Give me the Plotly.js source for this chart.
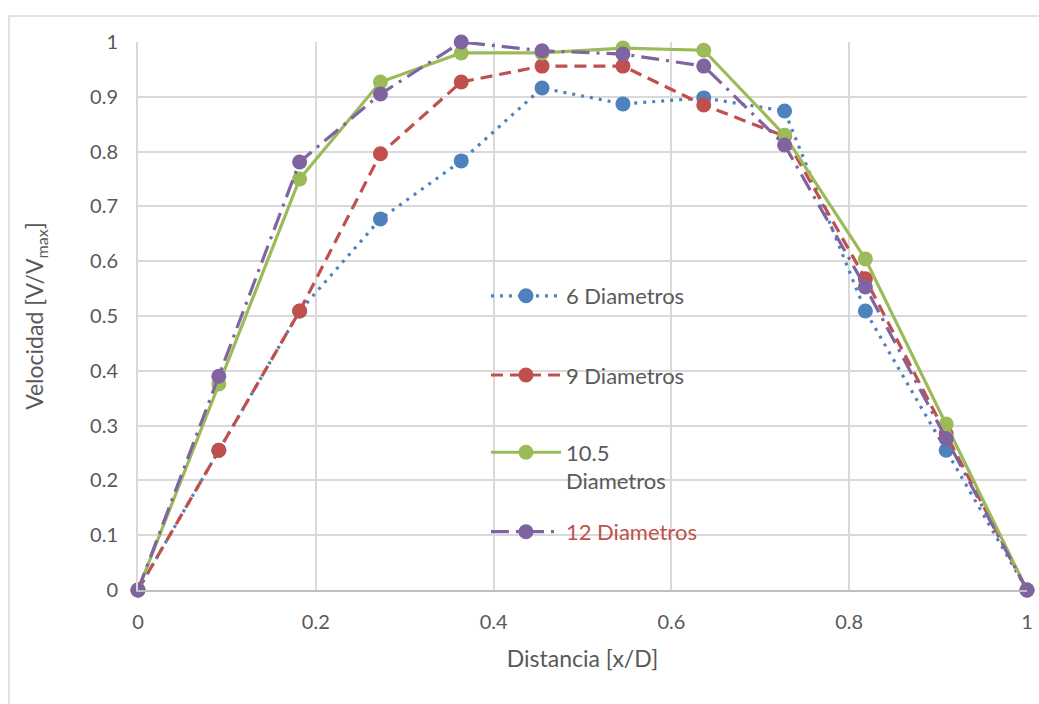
<!DOCTYPE html>
<html>
<head>
<meta charset="utf-8">
<script src="https://cdn.plot.ly/plotly-3.0.1.min.js"></script>
<style>html,body{margin:0;padding:0;background:#fff;}#chart{width:1039px;height:704px;}</style>
</head>
<body>
<div id="chart"></div>
<script>
var distancia = [0, 0.0909, 0.1818, 0.2727, 0.3636, 0.4545, 0.5455, 0.6364, 0.7273, 0.8182, 0.9091, 1];
var seriesNames = ["6 Diametros", "9 Diametros", "10.5<br>Diametros", "12 Diametros"];
var d6 = [0, 0.255, 0.509, 0.677, 0.783, 0.916, 0.887, 0.898, 0.874, 0.509, 0.255, 0];
var d9 = [0, 0.255, 0.509, 0.796, 0.927, 0.956, 0.956, 0.885, 0.828, 0.568, 0.285, 0];
var d105 = [0, 0.376, 0.750, 0.927, 0.980, 0.980, 0.989, 0.985, 0.830, 0.604, 0.303, 0];
var d12 = [0, 0.390, 0.781, 0.905, 1.000, 0.984, 0.978, 0.956, 0.812, 0.553, 0.276, 0];
var xTicks = [0, 0.2, 0.4, 0.6, 0.8, 1];
var yTicks = [0, 0.1, 0.2, 0.3, 0.4, 0.5, 0.6, 0.7, 0.8, 0.9, 1];

var FONT = "Lato, 'Liberation Sans', sans-serif";
var TXT = "#595959";
function tr(y, name, color, dash, leg) {
  return {
    x: distancia, y: y, name: name, type: "scatter", mode: "lines+markers",
    line: {color: color, width: 3.2, dash: dash},
    marker: {color: color, size: 15},
    cliponaxis: false,
    legend: leg
  };
}
var data = [
  tr(d6, seriesNames[0], "#4F81BD", "3px,6px", "legend"),
  tr(d9, seriesNames[1], "#C0504D", "12px,7px", "legend2"),
  tr(d105, seriesNames[2], "#9BBB59", "solid", "legend3"),
  tr(d12, seriesNames[3], "#8064A2", "18px,7px,3px,7px", "legend4")
];
function leg(y, col) {
  return {x: 0.3914, xanchor: "left", y: y, yanchor: "middle", bgcolor: "rgba(0,0,0,0)",
    font: {family: FONT, size: 22, color: col || TXT}, itemwidth: 70, valign: "top"};
}
var layout = {
  width: 1039, height: 704,
  margin: {l: 138, r: 12, t: 42, b: 114, pad: 0},
  paper_bgcolor: "#fff", plot_bgcolor: "#fff",
  font: {family: FONT, color: TXT, size: 20},
  showlegend: true,
  legend: leg(0.5365),
  legend2: leg(0.392),
  legend3: leg(0.2245),
  legend4: leg(0.106, "#C0504D"),
  xaxis: {
    range: [0, 1], tickvals: xTicks, ticktext: xTicks.map(String),
    showgrid: true, gridcolor: "#d9d9d9", gridwidth: 2, zeroline: false,
    showline: true, linecolor: "#bfbfbf", linewidth: 2,
    ticks: "", ticklabelstandoff: 13, tickfont: {size: 20, color: TXT, family: FONT},
    title: {text: "Distancia [x/D]", font: {size: 23, color: TXT, family: FONT}, standoff: 19}
  },
  yaxis: {
    range: [0, 1], tickvals: yTicks, ticktext: yTicks.map(String),
    showgrid: true, gridcolor: "#d9d9d9", gridwidth: 2, zeroline: false,
    showline: true, linecolor: "#d9d9d9", linewidth: 2,
    ticks: "", ticklabelstandoff: 14, tickfont: {size: 20, color: TXT, family: FONT},
    title: {text: "Velocidad [V/V<sub>max</sub>]", font: {size: 23, color: TXT, family: FONT}, standoff: 40}
  },
  shapes: [{
    type: "rect", xref: "paper", yref: "paper",
    x0: -0.1451, x1: 1.03, y0: -0.23, y1: 1.0475,
    line: {color: "#d9d9d9", width: 1.5}, fillcolor: "rgba(0,0,0,0)", layer: "below"
  }]
};
Plotly.newPlot("chart", data, layout, {displayModeBar: false, staticPlot: true});
</script>
</body>
</html>
